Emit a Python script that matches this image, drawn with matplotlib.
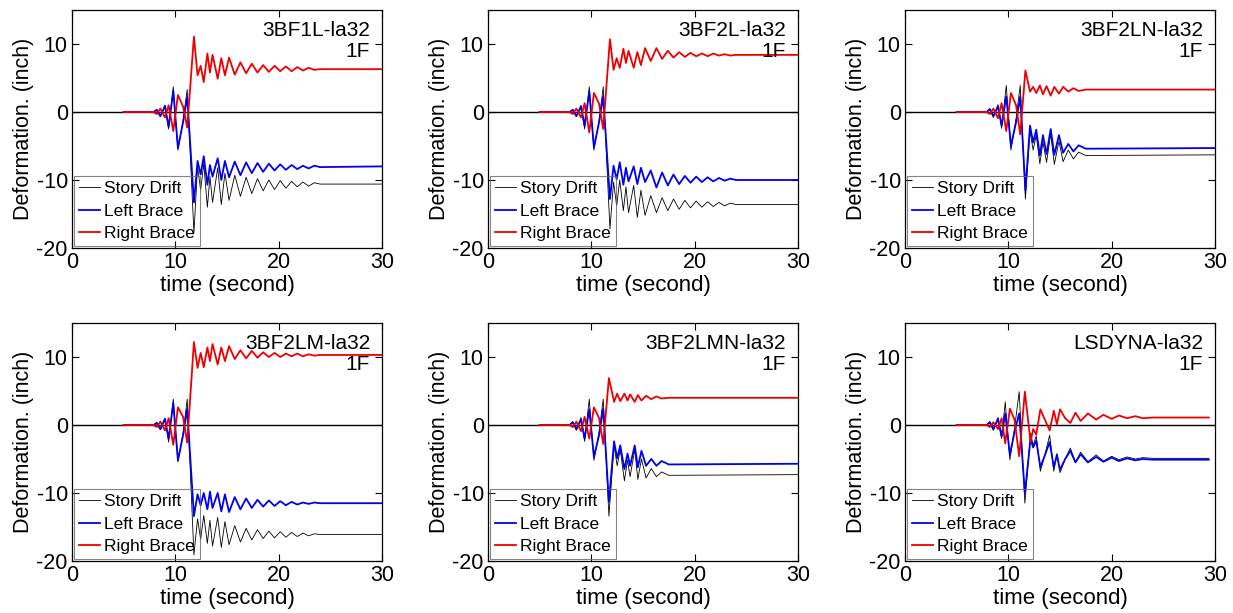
import matplotlib
matplotlib.use("Agg")
import matplotlib.pyplot as plt

plt.rcParams['font.family'] = ['Liberation Sans', 'DejaVu Sans']
plt.rcParams['axes.unicode_minus'] = False

# ---- data (time in s, deformation in inch) ----
T_PRE = [5.0, 7.9, 8.2, 8.55, 9.0, 9.35, 9.8, 10.25, 10.75, 11.15]
T_POST = [11.8, 12.15, 12.45, 12.75, 13.1, 13.35, 13.6, 14.1, 14.45, 14.8, 15.2, 15.75,
          16.3, 16.85, 17.4, 17.95, 18.5, 19.05, 19.6, 20.15, 20.7, 21.25, 21.8, 22.35,
          22.9, 23.45, 24.0, 30.0]
T_POST_2LN = [11.65, 12.1, 12.4, 12.7, 13.05, 13.35, 13.7, 14.1, 14.45, 14.9, 15.3, 15.8,
              16.3, 16.8, 17.5, 30.0]
T_POST_2LMN = [11.7, 12.2, 12.5, 12.8, 13.2, 13.5, 13.75, 14.2, 14.5, 14.85, 15.3, 15.8,
               16.3, 16.8, 17.5, 30.0]
T_PRE_LS = [5.0, 7.9, 8.2, 8.55, 9.0, 9.35, 9.7, 10.15, 10.6, 11.05]
T_POST_LS = [11.6, 12.15, 12.4, 12.7, 13.1, 13.5, 14.0, 14.4, 14.7, 15.0, 15.5, 16.0, 16.5,
             17.0, 17.7, 18.5, 19.2, 20.0, 20.7, 21.5, 22.3, 23.0, 24.0, 29.4]

# 3BF1L
DRIFT_1L = [0, 0, 0.4, -0.7, 1.0, -2.5, 3.7, -5.6, -1.2, 3.3,
            -17.8, -8.0, -11.5, -7.6, -14.0, -9.5, -13.3, -8.2, -13.6, -9.0, -13.0, -9.3,
            -12.4, -9.6, -12.0, -9.8, -11.6, -10.0, -11.4, -10.1, -11.2, -10.2, -11.0, -10.3,
            -10.9, -10.4, -10.6, -10.6]
LEFT_1L = [0, 0, 0.3, -0.6, 0.9, -2.2, 3.1, -5.3, -1.5, 2.2,
           -13.3, -7.2, -9.2, -6.5, -10.7, -7.8, -9.5, -6.8, -10.0, -7.2, -9.6, -7.3,
           -9.3, -7.4, -9.0, -7.5, -8.8, -7.6, -8.6, -7.7, -8.5, -7.8, -8.4, -7.9,
           -8.3, -7.9, -8.1, -8.0]
RIGHT_1L = [0, 0, -0.3, 0.5, -0.8, 1.0, -2.8, 2.5, 0.8, -2.3,
            11.1, 5.4, 6.8, 4.4, 8.6, 5.8, 8.4, 4.9, 7.9, 5.4, 8.0, 5.5,
            7.3, 5.7, 7.1, 5.8, 6.9, 5.9, 6.8, 6.0, 6.7, 6.0, 6.6, 6.1,
            6.5, 6.2, 6.3, 6.3]

# 3BF2L
DRIFT_2L = [0, 0, 0.4, -0.7, 1.0, -2.5, 3.7, -5.6, -1.2, 3.7,
            -17.2, -10.3, -13.8, -10.0, -14.5, -11.0, -14.8, -10.8, -15.5, -11.5, -15.2, -12.3,
            -14.8, -12.6, -14.5, -12.8, -14.3, -13.0, -14.1, -13.1, -14.0, -13.2, -13.9, -13.3,
            -13.8, -13.4, -13.6, -13.6]
LEFT_2L = [0, 0, 0.3, -0.6, 0.8, -2.0, 3.0, -5.2, -1.5, 2.3,
           -12.8, -7.9, -9.9, -7.4, -10.7, -8.2, -10.2, -8.0, -10.6, -8.2, -10.3, -8.6,
           -11.1, -8.9, -10.8, -9.2, -10.6, -9.4, -10.4, -9.5, -10.3, -9.6, -10.2, -9.7,
           -10.1, -9.8, -10.0, -10.0]
RIGHT_2L = [0, 0, -0.3, 0.5, -0.8, 1.3, -3.0, 2.8, 1.2, -2.5,
            10.7, 6.2, 7.9, 6.5, 9.3, 7.2, 9.0, 6.5, 8.8, 6.9, 9.4, 7.5,
            9.4, 7.8, 9.0, 8.0, 8.8, 8.1, 8.7, 8.2, 8.6, 8.2, 8.6, 8.3,
            8.5, 8.3, 8.4, 8.4]

# 3BF2LN
DRIFT_2LN = [0, 0, 0.5, -0.8, 1.1, -2.4, 3.9, -5.6, -1.0, 3.9,
             -12.8, -2.8, -5.6, -3.4, -7.6, -4.4, -7.4, -3.2, -7.7, -4.3, -7.3, -5.6,
             -6.9, -5.9, -6.4, -6.3]
LEFT_2LN = [0, 0, 0.4, -0.6, 0.8, -2.0, 2.3, -5.0, -1.5, 2.3,
            -11.5, -2.0, -4.5, -2.6, -6.4, -3.4, -6.2, -2.5, -6.3, -3.4, -6.0, -4.7,
            -5.8, -4.9, -5.4, -5.3]
RIGHT_2LN = [0, 0, -0.3, 0.5, -0.9, 1.3, -2.8, 2.8, 1.0, -3.3,
             6.1, 3.0, 3.7, 2.8, 3.9, 2.6, 3.8, 2.4, 3.7, 2.7, 3.7, 3.0,
             3.5, 3.1, 3.3, 3.3]

# 3BF2LM
DRIFT_2LM = [0, 0, 0.4, -0.7, 1.0, -2.5, 3.8, -5.4, -1.2, 3.8,
             -19.1, -13.8, -16.8, -13.3, -17.4, -14.0, -17.8, -13.6, -18.0, -14.2, -17.6, -14.8,
             -17.2, -15.2, -16.9, -15.4, -16.7, -15.6, -16.6, -15.7, -16.5, -15.8, -16.4, -15.9,
             -16.3, -16.0, -16.1, -16.1]
LEFT_2LM = [0, 0, 0.3, -0.6, 0.9, -2.0, 3.2, -5.2, -1.5, 2.4,
            -13.4, -10.2, -11.8, -10.0, -12.4, -9.8, -12.2, -10.0, -12.7, -10.2, -12.8, -10.6,
            -12.4, -10.8, -12.2, -11.0, -12.0, -11.1, -11.9, -11.2, -11.8, -11.3, -11.7, -11.4,
            -11.6, -11.4, -11.5, -11.5]
RIGHT_2LM = [0, 0, -0.3, 0.5, -0.8, 1.0, -2.9, 2.6, 1.2, -2.6,
             12.2, 8.4, 10.6, 8.5, 11.4, 9.4, 11.9, 8.9, 11.4, 9.4, 11.6, 9.7,
             11.0, 9.8, 10.9, 9.9, 10.7, 10.0, 10.6, 10.0, 10.5, 10.1, 10.5, 10.1,
             10.4, 10.2, 10.3, 10.3]

# 3BF2LMN
DRIFT_2LMN = [0, 0, 0.5, -0.8, 1.1, -2.4, 3.8, -5.2, -1.0, 3.8,
              -13.4, -3.0, -6.0, -3.6, -8.2, -5.2, -7.6, -3.6, -8.0, -5.0, -7.8, -6.4,
              -7.6, -6.9, -7.4, -7.3]
LEFT_2LMN = [0, 0, 0.4, -0.6, 0.8, -2.0, 2.3, -4.7, -1.5, 2.4,
             -11.3, -2.4, -4.9, -3.0, -6.5, -4.2, -6.0, -3.0, -6.2, -3.8, -6.0, -5.0,
             -6.0, -5.3, -5.8, -5.7]
RIGHT_2LMN = [0, 0, -0.3, 0.5, -0.9, 1.2, -2.0, 2.6, 1.0, -2.8,
              6.9, 3.4, 4.6, 3.5, 4.6, 3.6, 4.5, 3.4, 4.4, 3.6, 4.3, 3.8,
              4.2, 3.9, 4.0, 4.0]

# LSDYNA
DRIFT_LS = [0, 0, 0.5, -0.8, 1.1, -2.0, 3.4, -5.1, -0.5, 4.9,
            -11.5, -1.2, -3.0, -1.6, -6.8, -4.6, -1.5, -6.8, -4.2, -7.0, -5.0, -3.4,
            -5.5, -4.0, -5.4, -4.4, -5.3, -4.6, -5.1, -4.7, -5.0, -4.8, -4.9, -4.9]
LEFT_LS = [0, 0, 0.4, -0.6, 0.9, -1.7, 1.7, -4.4, -1.0, 1.7,
           -10.0, -2.0, -3.3, -2.3, -6.2, -4.6, -2.5, -6.2, -4.4, -6.6, -5.0, -3.8,
           -5.5, -4.3, -5.5, -4.7, -5.4, -4.8, -5.3, -4.9, -5.2, -5.0, -5.1, -5.1]
RIGHT_LS = [0, 0, -0.3, 0.4, -0.6, 1.0, -2.7, 2.4, 0.8, -4.6,
            4.9, -2.5, -0.6, -1.4, 2.3, 0.9, -0.8, 2.1, 0.1, 2.3, 1.0, 0.3,
            1.8, 0.6, 1.7, 0.8, 1.5, 0.9, 1.4, 1.0, 1.3, 1.0, 1.1, 1.1]

PANELS = [
    ("3BF1L-la32", T_PRE + T_POST, DRIFT_1L, LEFT_1L, RIGHT_1L),
    ("3BF2L-la32", T_PRE + T_POST, DRIFT_2L, LEFT_2L, RIGHT_2L),
    ("3BF2LN-la32", T_PRE + T_POST_2LN, DRIFT_2LN, LEFT_2LN, RIGHT_2LN),
    ("3BF2LM-la32", T_PRE + T_POST, DRIFT_2LM, LEFT_2LM, RIGHT_2LM),
    ("3BF2LMN-la32", T_PRE + T_POST_2LMN, DRIFT_2LMN, LEFT_2LMN, RIGHT_2LMN),
    ("LSDYNA-la32", T_PRE_LS + T_POST_LS, DRIFT_LS, LEFT_LS, RIGHT_LS),
]
STORY = "1F"

fig = plt.figure(figsize=(12.33, 6.13), dpi=100)
lefts = [72, 488, 905]
bottoms = [248, 561]  # pixel row of the axes bottom edge

for i, (name, t, drift, left, right) in enumerate(PANELS):
    r, c = divmod(i, 3)
    ax = fig.add_axes([lefts[c] / 1233, 1 - bottoms[r] / 613, 310 / 1233, 238 / 613])
    ax.axhline(0, color='k', lw=1.0, zorder=1)
    ax.plot(t, drift, color='k', lw=0.6, label='Story Drift', zorder=2,
            solid_joinstyle='round')
    ax.plot(t, left, color='#0000ee', lw=1.3, label='Left Brace', zorder=3,
            solid_joinstyle='round')
    ax.plot(t, right, color='#ee0000', lw=1.3, label='Right Brace', zorder=3,
            solid_joinstyle='round')

    ax.set_xlim(0, 30)
    ax.set_ylim(-20, 15)
    ax.set_xticks([0, 10, 20, 30])
    ax.set_yticks([-20, -10, 0, 10])
    ax.tick_params(direction='in', top=True, right=True, labelsize=15.5, length=5, pad=3)
    ax.set_xlabel('time (second)', fontsize=16, labelpad=1)
    ax.set_ylabel('Deformation. (inch)', fontsize=15.5, labelpad=2)
    for s in ax.spines.values():
        s.set_linewidth(0.9)

    ax.text(0.962, 0.955, name + "\n" + STORY, transform=ax.transAxes, ha='right',
            va='top', fontsize=15, linespacing=1.15)

    leg = ax.legend(loc='lower left', fontsize=12.5, handlelength=1.2, handletextpad=0.25,
                    labelspacing=0.42, borderpad=0.3, borderaxespad=0.1,
                    fancybox=False, facecolor='none', edgecolor='#666666')
    leg.get_frame().set_linewidth(0.8)

fig.savefig('out.png', dpi=100)
